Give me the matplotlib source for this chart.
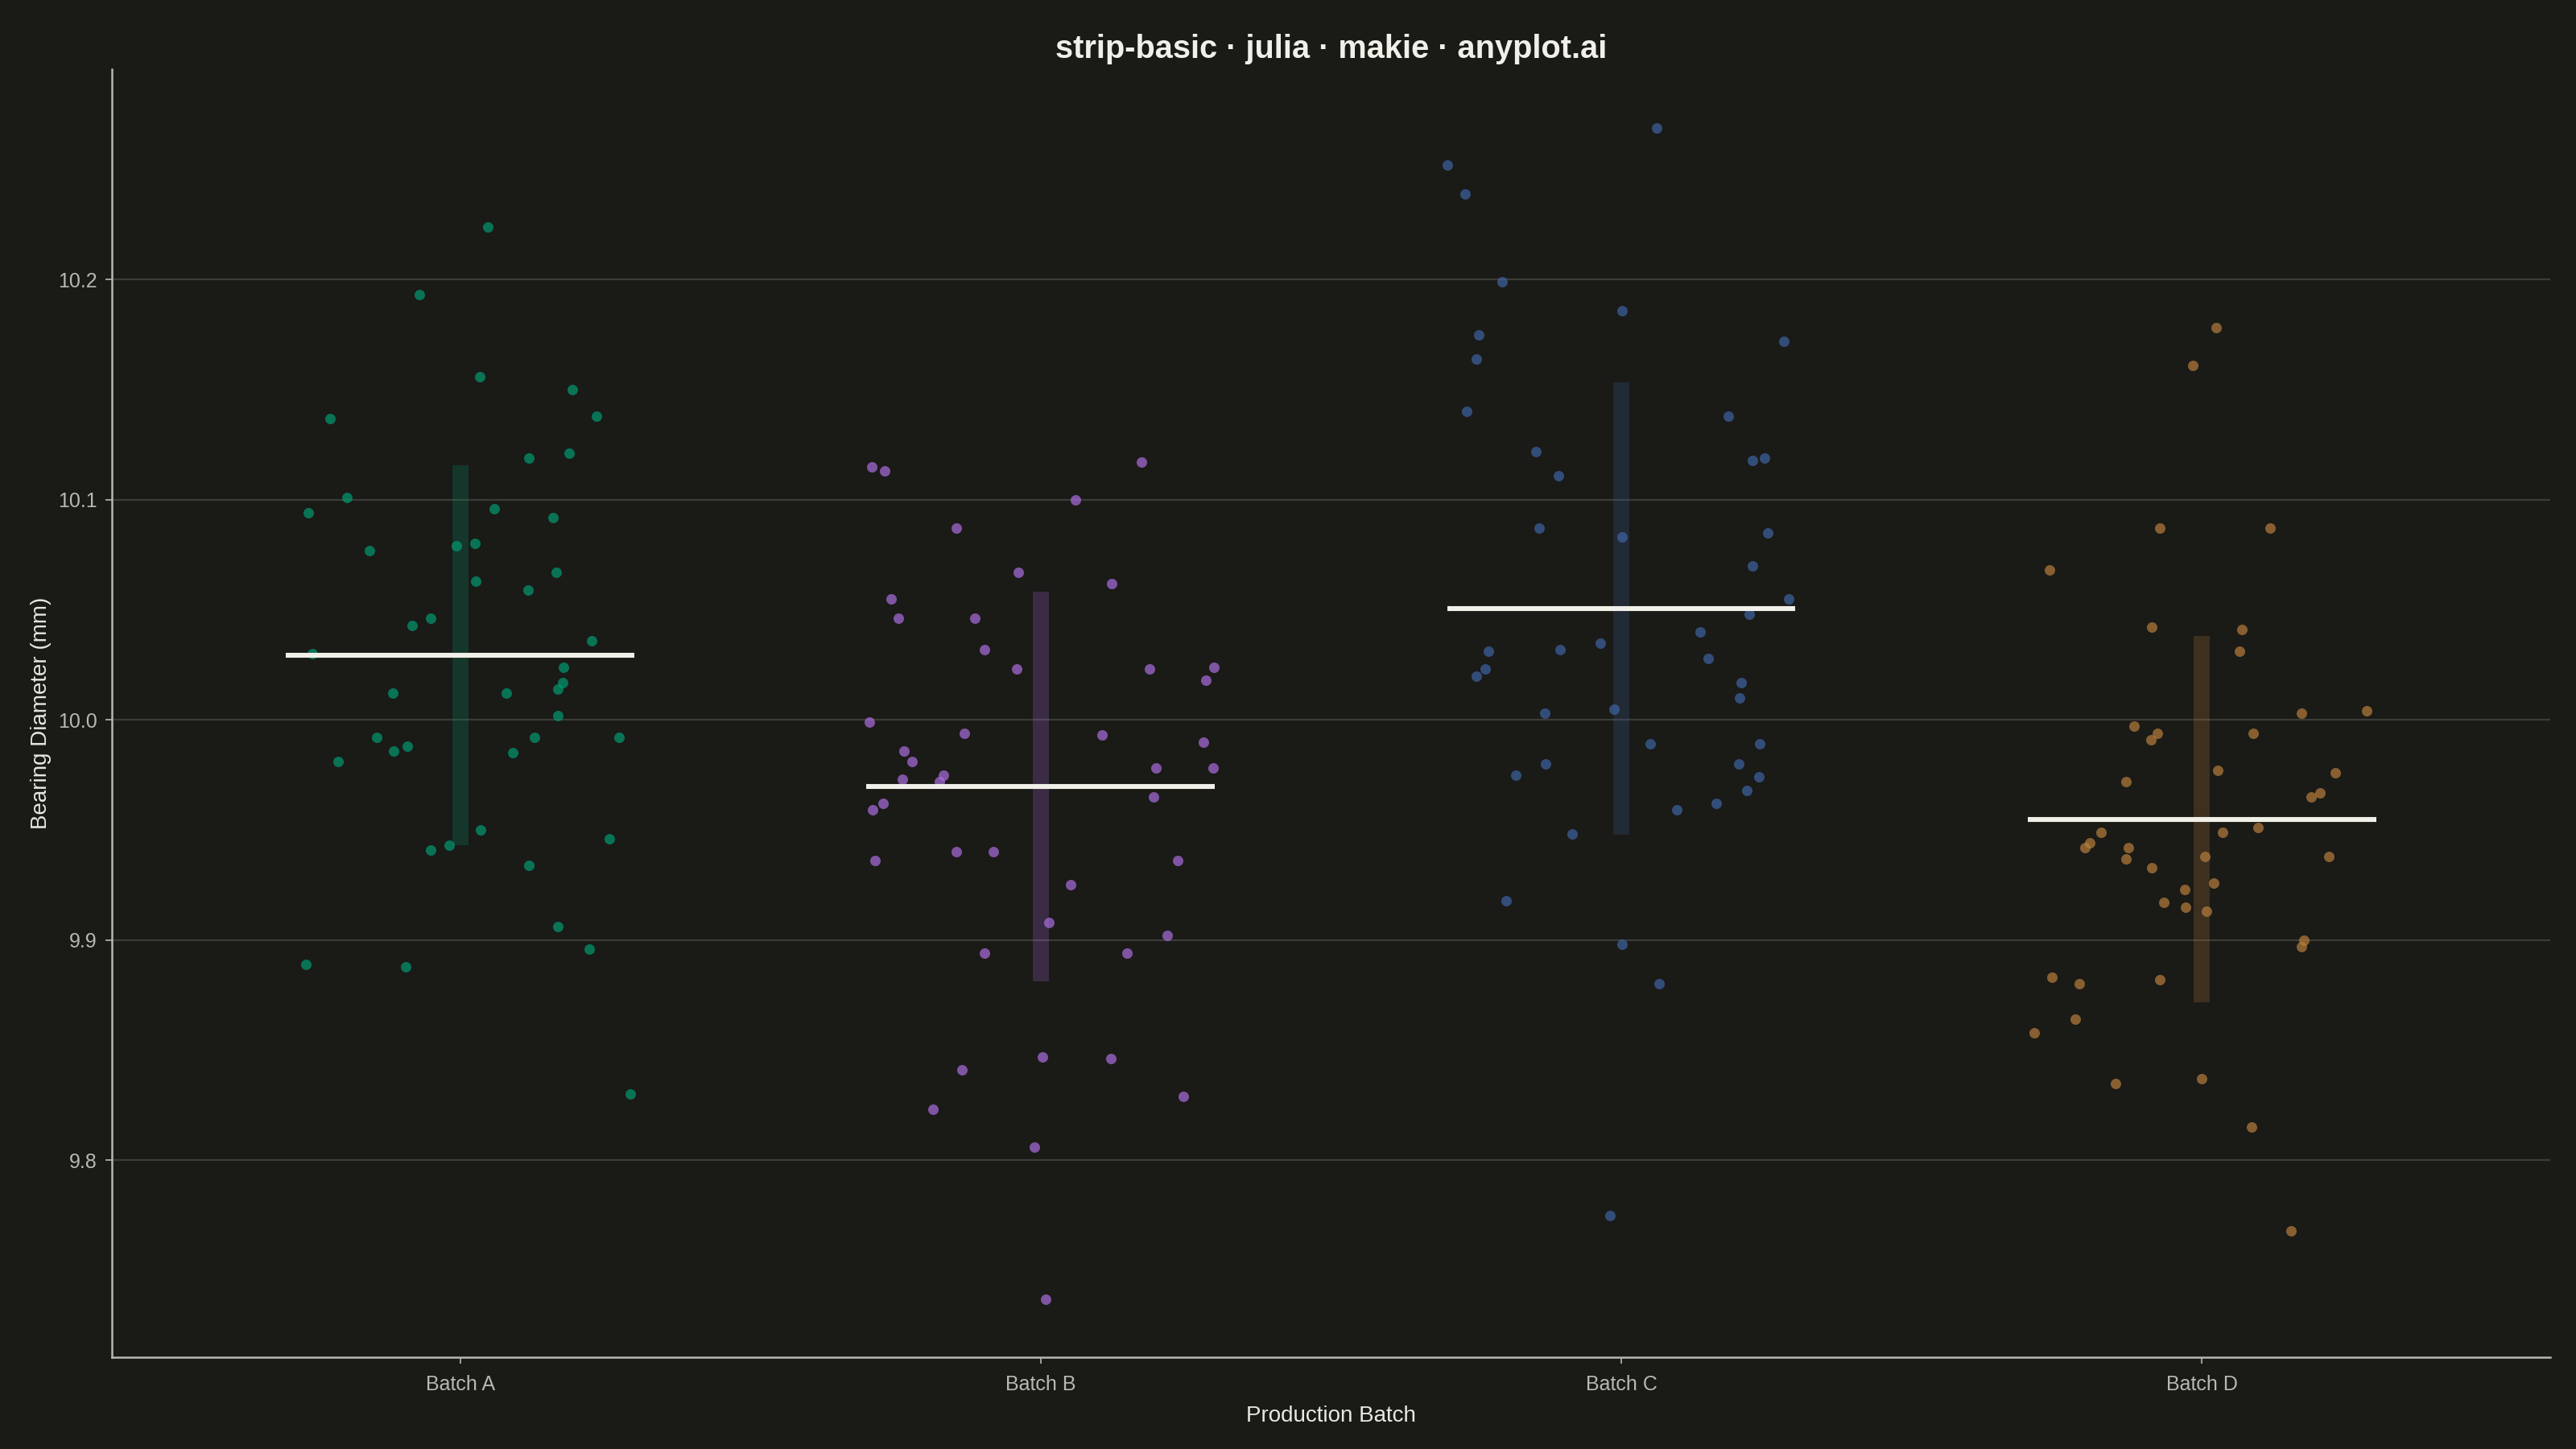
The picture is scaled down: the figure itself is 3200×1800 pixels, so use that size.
import numpy as np
from matplotlib import pyplot as plt

# batches and read-off measurements (mm) with horizontal jitter offsets
batches = ['Batch A', 'Batch B', 'Batch C', 'Batch D']

batch_a = [10.224, 10.193, 10.156, 10.150, 10.138, 10.137, 10.119, 10.121, 10.101, 10.094,
           10.096, 10.092, 10.077, 10.079, 10.080, 10.063, 10.059, 10.067, 10.043, 10.046,
           10.036, 10.030, 10.024, 10.017, 10.014, 10.012, 10.012, 10.002, 9.992, 9.992,
           9.992, 9.986, 9.988, 9.985, 9.981, 9.950, 9.941, 9.943, 9.946, 9.934,
           9.906, 9.896, 9.889, 9.888, 9.830]
jitter_a = [0.047, -0.070, 0.034, 0.193, 0.235, -0.224, 0.118, 0.188, -0.195, -0.261,
            0.059, 0.160, -0.156, -0.006, 0.026, 0.027, 0.117, 0.166, -0.083, -0.051,
            0.227, -0.254, 0.178, 0.176, 0.169, -0.116, 0.079, 0.169, -0.143, 0.128,
            0.273, -0.115, -0.091, 0.090, -0.210, 0.035, -0.051, -0.019, 0.257, 0.119,
            0.169, 0.222, -0.266, -0.094, 0.293]

batch_b = [10.115, 10.113, 10.117, 10.100, 10.087, 10.067, 10.062, 10.055, 10.046, 10.046,
           10.032, 10.023, 10.023, 10.024, 10.018, 9.999, 9.994, 9.993, 9.990, 9.986,
           9.981, 9.978, 9.978, 9.975, 9.972, 9.973, 9.965, 9.962, 9.959, 9.936,
           9.940, 9.940, 9.936, 9.925, 9.908, 9.902, 9.894, 9.894, 9.847, 9.846,
           9.841, 9.829, 9.823, 9.806, 9.737]
jitter_b = [-0.291, -0.269, 0.174, 0.060, -0.146, -0.038, 0.122, -0.257, -0.245, -0.113,
            -0.097, -0.041, 0.188, 0.298, 0.284, -0.295, -0.132, 0.106, 0.281, -0.235,
            -0.221, 0.199, 0.297, -0.167, -0.174, -0.238, 0.195, -0.271, -0.290, -0.286,
            -0.146, -0.082, 0.236, 0.052, 0.014, 0.218, -0.097, 0.149, 0.003, 0.121,
            -0.136, 0.246, -0.186, -0.011, 0.009]

batch_c = [10.269, 10.252, 10.239, 10.199, 10.186, 10.175, 10.172, 10.164, 10.140, 10.138,
           10.122, 10.111, 10.118, 10.119, 10.087, 10.083, 10.085, 10.070, 10.055, 10.048,
           10.040, 10.035, 10.031, 10.032, 10.028, 10.023, 10.020, 10.017, 10.010, 10.003,
           10.005, 9.989, 9.989, 9.980, 9.975, 9.980, 9.974, 9.968, 9.962, 9.959,
           9.948, 9.918, 9.898, 9.880, 9.775]
jitter_c = [0.061, -0.299, -0.269, -0.205, 0.002, -0.246, 0.280, -0.250, -0.266, 0.185,
            -0.147, -0.108, 0.226, 0.247, -0.141, 0.001, 0.252, 0.226, 0.288, 0.221,
            0.136, -0.036, -0.229, -0.106, 0.149, -0.234, -0.250, 0.206, 0.204, -0.132,
            -0.013, 0.050, 0.239, -0.130, -0.182, 0.202, 0.237, 0.216, 0.163, 0.095,
            -0.085, -0.198, 0.002, 0.065, -0.019]

batch_d = [10.178, 10.161, 10.087, 10.087, 10.068, 10.042, 10.041, 10.031, 10.003, 10.004,
           9.997, 9.994, 9.991, 9.994, 9.977, 9.976, 9.972, 9.967, 9.965, 9.949,
           9.949, 9.951, 9.944, 9.942, 9.942, 9.937, 9.938, 9.938, 9.933, 9.926,
           9.923, 9.917, 9.915, 9.913, 9.900, 9.897, 9.883, 9.880, 9.882, 9.864,
           9.858, 9.835, 9.837, 9.815, 9.768]
jitter_d = [0.024, -0.015, -0.073, 0.117, -0.262, -0.086, 0.069, 0.065, 0.171, 0.284,
            -0.117, -0.076, -0.088, 0.088, 0.027, 0.230, -0.131, 0.204, 0.188, -0.174,
            0.035, 0.097, -0.193, -0.201, -0.127, -0.131, 0.005, 0.219, -0.087, 0.020,
            -0.029, -0.066, -0.028, 0.008, 0.176, 0.171, -0.258, -0.211, -0.073, -0.218,
            -0.289, -0.149, 0.000, 0.086, 0.154]

values = [batch_a, batch_b, batch_c, batch_d]
jitters = [jitter_a, jitter_b, jitter_c, jitter_d]
colors = ['#009E73', '#B070E6', '#4066A8', '#BC813C']

bg = '#1A1A17'
plt.rcParams['font.family'] = ['Liberation Sans', 'DejaVu Sans']

fig = plt.figure(figsize=(16, 9), dpi=200, facecolor=bg)
ax = fig.add_axes([0.0434, 0.0633, 0.9466, 0.8889], facecolor=bg)

for i, (vals, jit, col) in enumerate(zip(values, jitters, colors)):
    pos = i + 1
    v = np.array(vals)
    m = v.mean()
    s = v.std(ddof=1)
    # полоса +- стандартное отклонение
    ax.bar(pos, 2 * s, bottom=m - s, width=0.028, color=col, alpha=0.22, zorder=2, linewidth=0)
    # точки
    ax.scatter(pos + np.array(jit), v, s=22, color=col, alpha=0.68, linewidths=0, zorder=3)
    # линия среднего
    ax.plot([pos - 0.3, pos + 0.3], [m, m], color='#F0EFE8', lw=2.2, zorder=4,
            solid_capstyle='butt')

ax.set_xlim(0.4, 4.6)
ax.set_ylim(9.7105, 10.2955)
ax.set_xticks(range(1, 5))
ax.set_xticklabels(batches)
ax.set_yticks([9.8, 9.9, 10.0, 10.1, 10.2])
ax.set_yticklabels(['9.8', '9.9', '10.0', '10.1', '10.2'])

# сетка и оси
ax.grid(axis='y', color='#3C3C38', lw=0.8)
ax.set_axisbelow(True)
for side in ['top', 'right']:
    ax.spines[side].set_visible(False)
for side in ['left', 'bottom']:
    ax.spines[side].set_color('#B8B8B0')
    ax.spines[side].set_linewidth(0.9)
ax.tick_params(colors='#B8B8B0', labelcolor='#B8B8B0', labelsize=9, length=3, width=0.6)
ax.tick_params(axis='x', pad=5)

ax.set_xlabel('Production Batch', color='#E8E8E0', fontsize=10, labelpad=5)
ax.set_ylabel('Bearing Diameter (mm)', color='#E8E8E0', fontsize=10, labelpad=3)
ax.set_title('strip-basic · julia · makie · anyplot.ai', color='#F0EFE8', fontsize=14.3,
             fontweight='bold', pad=5)

plt.savefig('out.png', facecolor=bg)
